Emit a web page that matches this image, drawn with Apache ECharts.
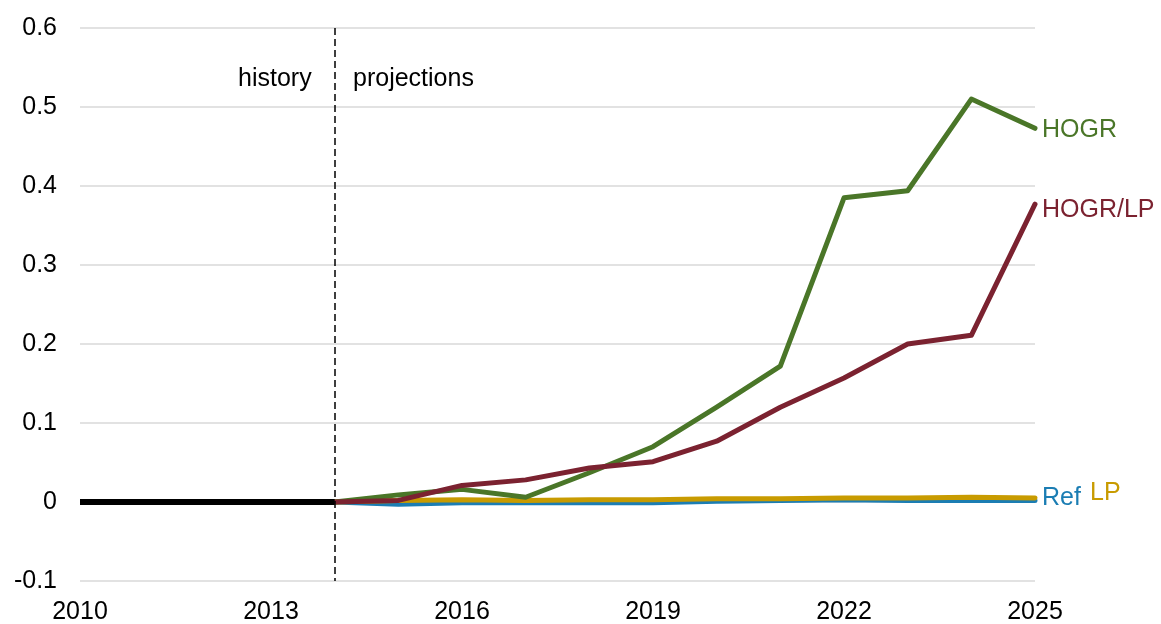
<!DOCTYPE html>
<html>
<head>
<meta charset="utf-8">
<script src="https://cdn.jsdelivr.net/npm/echarts@6/dist/echarts.min.js"></script>
<style>
  html, body { margin: 0; padding: 0; background: #fff; }
  #chart { width: 1161px; height: 624px; }
</style>
</head>
<body>
<div id="chart"></div>
<script>
// years on the x axis
const years = ['2010','2011','2012','2013','2014','2015','2016','2017','2018','2019','2020','2021','2022','2023','2024','2025']
// history (black) and the four projection cases
const history = [0, 0, 0, 0, 0, null, null, null, null, null, null, null, null, null, null, null]
const ref = [null, null, null, null, 0, -0.003, -0.001, -0.001, -0.001, -0.001, 0.001, 0.002, 0.003, 0.002, 0.002, 0.002]
const lp = [null, null, null, null, 0, 0.002, 0.003, 0.002, 0.003, 0.003, 0.004, 0.004, 0.005, 0.005, 0.006, 0.005]
const hogr = [null, null, null, null, 0, 0.009, 0.016, 0.006, 0.037, 0.07, 0.12, 0.172, 0.385, 0.394, 0.51, 0.473]
const hogrLp = [null, null, null, null, 0, 0.002, 0.021, 0.028, 0.043, 0.051, 0.077, 0.12, 0.157, 0.2, 0.211, 0.377]

const font = 'Liberation Sans, Arial, sans-serif'

function caseLine(name, data, color, label) {
  return {
    name: name,
    type: 'line',
    data: data,
    symbol: 'none',
    lineStyle: { width: 5, color: color, cap: 'round', join: 'round' },
    endLabel: Object.assign({
      show: true,
      formatter: name,
      color: color,
      fontSize: 25,
      fontFamily: font,
      distance: 7
    }, label || {})
  }
}

const chart = echarts.init(document.getElementById('chart'))
chart.setOption({
  animation: false,
  grid: { left: 80, right: 126, top: 28, bottom: 43, outerBoundsMode: 'none' },
  xAxis: {
    type: 'category',
    data: years,
    boundaryGap: false,
    axisLine: { show: false },
    axisTick: { show: false },
    axisLabel: { interval: 2, fontSize: 25, color: '#000', fontFamily: font, margin: 19 }
  },
  yAxis: {
    type: 'value',
    min: -0.1,
    max: 0.6,
    interval: 0.1,
    axisLine: { show: false },
    axisTick: { show: false },
    splitLine: { lineStyle: { color: '#d9d9d9', width: 1.5 } },
    axisLabel: {
      fontSize: 25, color: '#000', fontFamily: font, margin: 23,
      formatter: v => (Math.round(v * 10) / 10).toString()
    }
  },
  graphic: [
    { type: 'text', x: 238, y: 79, style: { text: 'history', fontSize: 25, fontFamily: font, fill: '#000', verticalAlign: 'middle' } },
    { type: 'text', x: 353, y: 79, style: { text: 'projections', fontSize: 25, fontFamily: font, fill: '#000', verticalAlign: 'middle' } }
  ],
  series: [
    caseLine('Ref', ref, '#1b7db3', { offset: [0, -2] }),
    caseLine('LP', lp, '#c89b00', { offset: [48, -5] }),
    caseLine('HOGR', hogr, '#4a7628', { offset: [0, 2] }),
    caseLine('HOGR/LP', hogrLp, '#7b2230', { offset: [0, 6] }),
    {
      name: 'history',
      type: 'line',
      data: history,
      symbol: 'none',
      lineStyle: { width: 6, color: '#000' },
      markLine: {
        silent: true,
        symbol: 'none',
        label: { show: false },
        lineStyle: { type: [7, 4], color: '#000', width: 1.5 },
        data: [[{ coord: ['2014', 0.6] }, { coord: ['2014', -0.1] }]]
      }
    }
  ]
})
</script>
</body>
</html>
